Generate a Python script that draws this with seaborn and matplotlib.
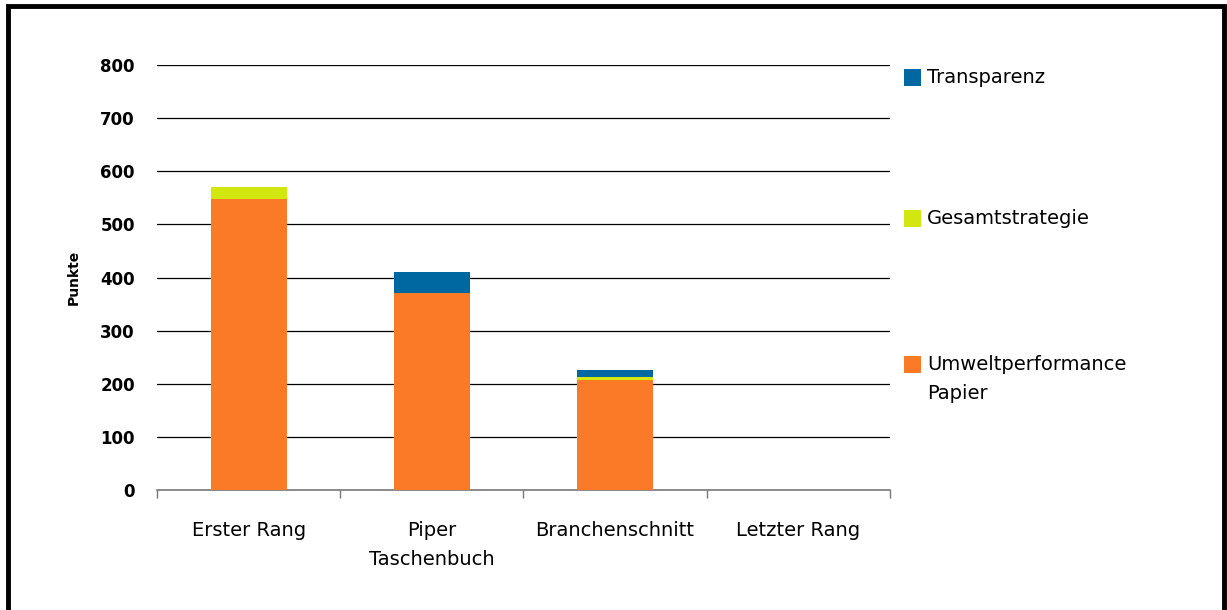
import numpy as np
import pandas as pd
import seaborn as sns
import matplotlib.patches as mpatches
from matplotlib import pyplot as plt

sns.set_theme(style="white")
plt.rcParams["font.family"] = ["DejaVu Sans"]
plt.rcParams["text.color"] = "black"
plt.rcParams["axes.labelcolor"] = "black"

# Daten
categories = ["Erster Rang", "Piper\nTaschenbuch", "Branchenschnitt", "Letzter Rang"]
umwelt = [548, 371, 207, 0]
gesamt = [22, 0, 6, 0]
transparenz = [0, 39, 13, 0]
series_names = ["Transparenz", "Gesamtstrategie", "Umweltperformance\nPapier"]
colors = {"Transparenz": "#0068A0", "Gesamtstrategie": "#D2E70F",
          "Umwelt": "#FA7A28"}
yticks = [0, 100, 200, 300, 400, 500, 600, 700, 800]

df = pd.DataFrame({"cat": categories, "umwelt": umwelt,
                   "gesamt": gesamt, "transparenz": transparenz})
df["lvl2"] = df["umwelt"] + df["gesamt"]
df["lvl3"] = df["lvl2"] + df["transparenz"]

fig = plt.figure(figsize=(12.27, 6.10), dpi=100)
ax = fig.add_axes([0.128, 0.1967, 0.5973, 0.6967])

# gestapelt: von oben nach unten ueberzeichnen
for col, c in [("lvl3", colors["Transparenz"]),
               ("lvl2", colors["Gesamtstrategie"]),
               ("umwelt", colors["Umwelt"])]:
    sns.barplot(data=df, x="cat", y=col, color=c, width=0.415,
                saturation=1, linewidth=0, ax=ax, zorder=3)

ax.set_ylim(0, 800)
ax.set_xlim(-0.5, 3.5)
ax.set_yticks(yticks)
ax.set_yticklabels([str(v) for v in yticks], fontweight="bold", fontsize=12)
for v in yticks[1:]:
    ax.axhline(v, color="black", lw=0.9, zorder=1)
ax.tick_params(axis="y", length=0, pad=16, labelcolor="black")

ax.set_xticks(np.arange(-0.5, 4, 1))
ax.set_xticklabels([])
ax.set_xticks(range(4), minor=True)
ax.set_xticklabels(categories, minor=True, fontsize=14, linespacing=1.7)
ax.tick_params(axis="x", which="major", length=6, width=1, color="#777777",
               direction="out", bottom=True)
ax.tick_params(axis="x", which="minor", length=0, pad=22, labelcolor="black")

ax.set_xlabel("")
ax.set_ylabel("Punkte", fontweight="bold", fontsize=10, labelpad=14)
for s in ["left", "right", "top"]:
    ax.spines[s].set_visible(False)
ax.spines["bottom"].set_color("#777777")
ax.spines["bottom"].set_linewidth(1.2)

# Legende (Kaestchen an der ersten Textzeile ausgerichtet)
leg_colors = [colors["Transparenz"], colors["Gesamtstrategie"], colors["Umwelt"]]
leg_y = [77, 218, 364]
W, H = 1227, 610
for name, c, yy in zip(series_names, leg_colors, leg_y):
    fig.add_artist(mpatches.Rectangle((904 / W, 1 - (yy + 8.5) / H), 17 / W, 17 / H,
                                      transform=fig.transFigure, color=c, lw=0))
    fig.text(927 / W, 1 - (yy - 9) / H, name, fontsize=14, va="top", ha="left",
             linespacing=1.65)

# Rahmen
fig.add_artist(mpatches.Rectangle((0.0068, -0.05), 0.9905, 1.04,
                                  transform=fig.transFigure, fill=False,
                                  edgecolor="black", lw=3.5))

plt.savefig("out.png", dpi=100)
